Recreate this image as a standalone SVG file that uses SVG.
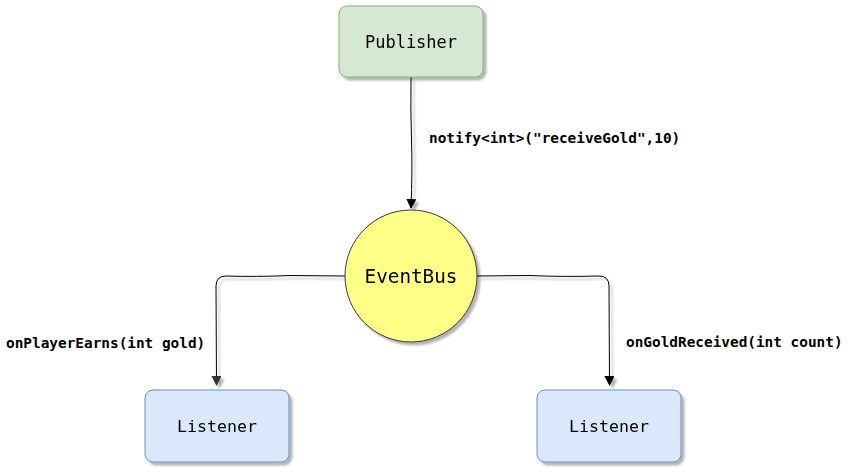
<svg xmlns="http://www.w3.org/2000/svg" width="850" height="472" viewBox="0 0 850 472">
<defs>
<filter id="sh" x="-20%" y="-20%" width="150%" height="150%">
<feGaussianBlur in="SourceAlpha" stdDeviation="0.8"/>
<feOffset dx="3" dy="3" result="o"/>
<feComponentTransfer><feFuncA type="linear" slope="0.3"/></feComponentTransfer>
<feMerge><feMergeNode/><feMergeNode in="SourceGraphic"/></feMerge>
</filter>
<marker id="arr" viewBox="0 0 10 10" refX="9" refY="5" markerWidth="10" markerHeight="10" markerUnits="userSpaceOnUse" orient="auto">
<path d="M0,0 L10,5 L0,10 Z" fill="#000"/>
</marker>
<marker id="arrg" viewBox="0 0 10 10" refX="9" refY="5" markerWidth="10" markerHeight="10" markerUnits="userSpaceOnUse" orient="auto">
<path d="M0,0 L10,5 L0,10 Z" fill="#333"/>
</marker>
</defs>
<style>
.t{font-family:"DejaVu Sans Mono",monospace;fill:#000;text-anchor:middle;dominant-baseline:central}
.l{font-family:"DejaVu Sans Mono",monospace;font-weight:bold;font-size:14.4px;fill:#000;dominant-baseline:central}
.e{fill:none;stroke:#000;stroke-width:1}
</style>
<rect width="850" height="472" fill="#fff"/>
<g id="connectors" filter="url(#sh)">
<path class="e" d="M411,77 Q410.5,110 411.5,140 T411,208" marker-end="url(#arr)"/>
<path class="e" d="M345,276 L290,275.5 Q255,277 226,276 Q216,276 216,286 L216.5,385" stroke="#333" marker-end="url(#arrg)"/>
<path class="e" d="M477,276 L530,275.5 Q560,277 599,276 Q609,276 609,286 L609.5,385" marker-end="url(#arr)"/>
</g>
<text class="l" x="429" y="138">notify&lt;int&gt;("receiveGold",10)</text>
<text class="l" x="6" y="343">onPlayerEarns(int gold)</text>
<text class="l" x="626" y="342">onGoldReceived(int count)</text>
<g id="publisher" filter="url(#sh)">
<rect x="339" y="6" width="144" height="71" rx="8" fill="#d5e8d4" stroke="#82b366" stroke-width="1"/>
<text class="t" x="411" y="42" font-size="17">Publisher</text>
</g>
<g id="eventbus" filter="url(#sh)">
<circle cx="411" cy="276" r="66" fill="#ffff88" stroke="#36393d" stroke-width="1"/>
<text class="t" x="411" y="276" font-size="19.3">EventBus</text>
</g>
<g id="listener-left" filter="url(#sh)">
<rect x="145" y="390" width="144" height="72" rx="8" fill="#dae8fc" stroke="#6c8ebf" stroke-width="1"/>
<text class="t" x="217" y="426" font-size="16.6">Listener</text>
</g>
<g id="listener-right" filter="url(#sh)">
<rect x="537" y="390" width="144" height="72" rx="8" fill="#dae8fc" stroke="#6c8ebf" stroke-width="1"/>
<text class="t" x="609" y="426" font-size="16.6">Listener</text>
</g>
</svg>
